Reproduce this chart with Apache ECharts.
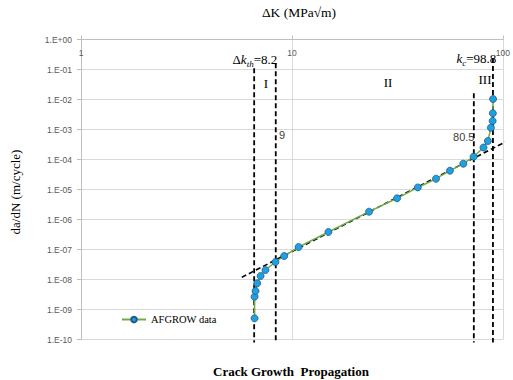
<!DOCTYPE html>
<html>
<head>
<meta charset="utf-8">
<script src="https://cdn.jsdelivr.net/npm/echarts@6/dist/echarts.min.js"></script>
<style>
html,body{margin:0;padding:0;background:#fff;}
#chart{width:513px;height:380px;}
</style>
</head>
<body>
<div id="chart"></div>
<script>
// ---- data ----
const kValues = [6.65, 6.65, 6.72, 6.84, 7.10, 7.49, 8.35, 9.19, 10.75, 14.89, 23.2, 31.5, 39.5, 48.2, 56.1, 64.9, 72.6, 80.9, 84.9, 87.7, 89.4, 89.6, 89.8];
const dadnValues = [5.09e-10, 2.67e-9, 4.14e-9, 7.47e-9, 1.31e-8, 2.07e-8, 3.83e-8, 6.07e-8, 1.21e-7, 3.83e-7, 1.82e-6, 5.09e-6, 1.17e-5, 2.29e-5, 4.24e-5, 7.24e-5, 1.24e-4, 2.51e-4, 4.14e-4, 1.15e-3, 1.92e-3, 3.47e-3, 1.04e-2];
const fitLineK = [5.78, 107];
const fitLineDadn = [1.18e-8, 4.47e-4];
const boundaryK = [6.62, 8.38, 72.8, 89.7];
const boundaryTop = [0.11, 0.161, 0.0161, 0.242];
const boundaryBottom = 8e-11;
const xTickLabels = ['1', '10', '100'];
const yTickLabels = ['1.E-10','1.E-09','1.E-08','1.E-07','1.E-06','1.E-05','1.E-04','1.E-03','1.E-02','1.E-01','1.E+00'];
const seriesName = 'AFGROW data';

const chart = echarts.init(document.getElementById('chart'), null, {renderer: 'svg'});

const serif = "'Liberation Serif', 'Times New Roman', serif";
const sans = "'Liberation Sans', Arial, sans-serif";

function txt(x, y, text, opts) {
  return {type: 'text', x: x, y: y, z: 10, style: Object.assign({
    text: text, fontFamily: serif, fontSize: 13, fill: '#000', align: 'center', verticalAlign: 'middle'
  }, opts || {})};
}

const series = [];
boundaryK.forEach((k, i) => {
  series.push({
    type: 'line', silent: true, clip: false, symbol: 'none', z: 2,
    data: [[k, boundaryTop[i]], [k, boundaryBottom]],
    lineStyle: {color: '#000', width: 1.8, type: [5, 3]}
  });
});
series.push({
  type: 'line', silent: true, clip: false, symbol: 'none', z: 2,
  data: fitLineK.map((k, i) => [k, fitLineDadn[i]]),
  lineStyle: {color: '#000', width: 1.6, type: [5, 3]}
});
series.push({
  name: seriesName, type: 'line', z: 5,
  data: kValues.map((k, i) => [k, dadnValues[i]]),
  symbol: 'circle', symbolSize: 7,
  lineStyle: {color: '#70AD47', width: 1.5},
  itemStyle: {color: '#1FA0DF', borderColor: '#1f5a8f', borderWidth: 0.8}
});

const richSub = {
  a: {fontFamily: serif, fontSize: 13, lineHeight: 18, fill: '#000'},
  k: {fontFamily: serif, fontSize: 13, fontStyle: 'italic', lineHeight: 18, fill: '#000'},
  s: {fontFamily: serif, fontSize: 9, fontStyle: 'italic', lineHeight: 9, verticalAlign: 'bottom', fill: '#000'}
};

chart.setOption({
  animation: false,
  backgroundColor: '#fff',
  grid: {left: 81, right: 7.5, top: 39.5, bottom: 40.5},
  legend: {
    data: [seriesName], left: 116, top: 309, itemWidth: 24, itemHeight: 7,
    textStyle: {fontFamily: serif, fontSize: 10.5, color: '#000'}
  },
  xAxis: {
    type: 'log', logBase: 10, min: 1, max: 100, splitNumber: 2, interval: 1, position: 'top',
    axisLine: {show: true, lineStyle: {color: '#bfbfbf'}},
    axisTick: {show: true, length: 4, lineStyle: {color: '#bfbfbf'}},
    axisLabel: {
      inside: true, margin: 9, color: '#595959', fontFamily: sans, fontSize: 8.5,
      formatter: v => xTickLabels[Math.round(Math.log10(v))]
    },
    splitLine: {show: true, lineStyle: {color: '#d9d9d9'}}
  },
  yAxis: {
    type: 'log', logBase: 10, min: 1e-10, max: 1, splitNumber: 10, interval: 1,
    axisLine: {show: true, lineStyle: {color: '#bfbfbf'}},
    axisTick: {show: true, length: 4, lineStyle: {color: '#bfbfbf'}},
    axisLabel: {
      margin: 9, color: '#595959', fontFamily: sans, fontSize: 8.5,
      formatter: v => yTickLabels[Math.round(Math.log10(v)) + 10]
    },
    splitLine: {show: true, lineStyle: {color: '#d9d9d9'}}
  },
  graphic: [
    txt(299, 12, 'ΔK (MPa√m)', {fontSize: 13.5}),
    Object.assign(txt(15, 192, 'da/dN (m/cycle)'), {rotation: Math.PI / 2}),
    txt(291, 371, 'Crack Growth  Propagation', {fontWeight: 'bold'}),
    {type: 'text', x: 232.5, y: 59, z: 10, style: {text: '{a|Δ}{k|k}{s|th}{a|=8.2}', align: 'left', verticalAlign: 'middle', rich: richSub}},
    {type: 'text', x: 456.5, y: 58, z: 10, style: {text: '{k|k}{s|c}{a|=98.8}', align: 'left', verticalAlign: 'middle', rich: richSub}},
    txt(266, 83, 'I'),
    txt(388, 82, 'II'),
    txt(485, 79.5, 'III'),
    txt(279, 134.5, '9', {fontFamily: sans, fontSize: 11, fill: '#404040', align: 'left'}),
    txt(474.5, 137, '80.5', {fontFamily: sans, fontSize: 11, fill: '#404040', align: 'right'})
  ],
  series: series
});
</script>
</body>
</html>
